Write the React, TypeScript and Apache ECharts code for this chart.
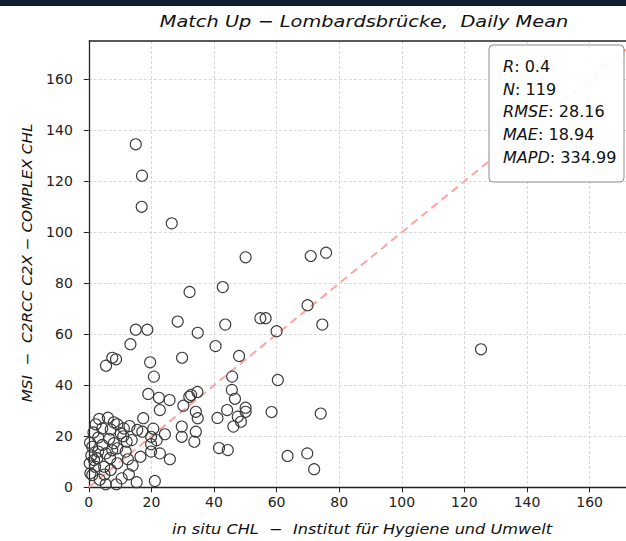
import React, { useEffect, useRef } from "react";
import * as echarts from "echarts";

// in situ CHL (x) – Institut für Hygiene und Umwelt
const insituChl = [
  15.0, 17.0, 16.9, 26.5, 50.1, 70.9, 75.8, 42.8, 32.2, 69.9,
  54.8, 56.5, 74.6, 60.0, 28.4, 43.6, 15.0, 18.7, 34.8, 13.3,
  40.5, 29.8, 48.0, 19.6, 7.5, 8.7, 5.5, 20.8, 45.8, 60.4,
  45.7, 46.7, 34.7, 32.7, 32.1, 30.2, 34.2, 34.8, 44.2, 50.1,
  50.1, 47.6, 48.6, 46.2, 41.1, 58.4, 74.1, 29.7, 29.7, 34.2,
  33.7, 41.6, 44.4, 63.5, 69.8, 72.0, 125.3, 19.0, 22.4, 25.8,
  22.7, 17.4, 24.3, 20.6, 19.9, 21.7, 19.9, 19.9, 22.7, 25.9,
  17.1, 13.7, 12.1, 12.8, 15.3, 21.1, 5.4, 8.8, 3.3, 6.1,
  2.2, 9.1, 4.3, 7.0, 10.2, 11.2, 15.5, 1.1, 4.3, 8.0,
  9.1, 5.4, 1.7, 2.7, 11.8, 6.8, 9.1, 2.0, 4.9, 1.1,
  7.0, 0.4, 0.3, 0.5, 0.8, 3.5, 11.0, 13.0, 3.0, 6.5,
  12.5, 14.0, 10.5, 3.0, 7.5, 1.5, 16.5, 8.0, 5.0,
];

// MSI – C2RCC C2X – COMPLEX CHL (y)
const msiChl = [
  134.5, 122.2, 110.0, 103.5, 90.2, 90.7, 92.0, 78.5, 76.6, 71.4,
  66.3, 66.3, 63.8, 61.2, 65.0, 63.8, 61.8, 61.8, 60.6, 56.1,
  55.4, 50.8, 51.5, 49.0, 50.8, 50.2, 47.7, 43.4, 43.4, 42.1,
  38.2, 34.7, 37.4, 36.2, 35.5, 32.0, 29.6, 27.1, 30.3, 31.2,
  29.6, 27.7, 25.7, 23.8, 27.2, 29.5, 28.9, 23.8, 19.8, 21.8,
  17.9, 15.4, 14.6, 12.3, 13.3, 7.1, 54.1, 36.6, 35.1, 34.2,
  30.3, 27.1, 20.8, 23.0, 19.8, 18.5, 16.9, 14.0, 13.3, 11.0,
  21.8, 18.5, 17.9, 5.1, 2.0, 2.5, 1.2, 1.2, 26.8, 27.3,
  24.7, 24.7, 23.1, 22.7, 21.2, 23.1, 22.5, 15.9, 16.6, 17.3,
  15.3, 13.3, 10.7, 11.4, 14.0, 11.4, 9.4, 8.1, 8.1, 4.8,
  6.8, 17.5, 9.4, 5.5, 12.5, 3.0, 20.0, 24.0, 19.5, 19.0,
  11.0, 8.5, 3.5, 14.0, 14.5, 21.5, 12.0, 25.5, 5.0,
];

const xTicks = [0, 20, 40, 60, 80, 100, 120, 140, 160];
const yTicks = [0, 20, 40, 60, 80, 100, 120, 140, 160];
const oneToOne = [
  [0, 0],
  [175, 175],
];

const statNames = ["R", "N", "RMSE", "MAE", "MAPD"];
const statValues = ["0.4", "119", "28.16", "18.94", "334.99"];

const titleText = "Match Up \u2212 Lombardsbr\u00fccke,  Daily Mean";
const xName = "in situ CHL  \u2212  Institut f\u00fcr Hygiene und Umwelt";
const yName = "MSI  \u2212  C2RCC C2X \u2212 COMPLEX CHL";

const FONT = '"DejaVu Sans", sans-serif';

export default function App() {
  const ref = useRef<HTMLDivElement>(null);

  useEffect(() => {
    if (!ref.current) return;
    const chart = echarts.init(ref.current, undefined, { renderer: "svg" });
    const points = insituChl.map((x, i) => [x, msiChl[i]]);

    const axisCommon = {
      type: "value" as const,
      min: 0,
      max: 175,
      interval: 20,
      axisLine: { show: true, onZero: false, lineStyle: { color: "#222", width: 1.3 } },
      splitLine: { show: true, lineStyle: { color: "#cfcfcf", width: 0.8, type: [3, 2] } },
    };

    chart.setOption({
      animation: false,
      backgroundColor: "#ffffff",
      grid: {
        left: 88.8,
        top: 41,
        width: 547.75,
        height: 446.3,
        containLabel: false,
        outerBoundsMode: "none",
      },
      xAxis: {
        ...axisCommon,
        axisTick: { show: true, length: 5, lineStyle: { color: "#222", width: 1 }, customValues: xTicks },
        axisLabel: {
          customValues: xTicks,
          color: "#222",
          fontSize: 14,
          fontFamily: FONT,
          margin: 8,
        },
      },
      yAxis: {
        ...axisCommon,
        axisTick: { show: true, length: 5, lineStyle: { color: "#222", width: 1 }, customValues: yTicks },
        axisLabel: {
          customValues: yTicks,
          color: "#222",
          fontSize: 14,
          fontFamily: FONT,
          margin: 16,
        },
      },
      series: [
        {
          type: "line",
          data: oneToOne,
          symbol: "none",
          silent: true,
          z: 1,
          lineStyle: { color: "#ffa3a3", width: 2, type: [8, 5] },
        },
        {
          type: "scatter",
          data: points,
          symbol: "circle",
          symbolSize: 11,
          z: 2,
          itemStyle: { color: "rgba(255,255,255,0)", borderColor: "#3a3a3a", borderWidth: 1.1, opacity: 1 },
        },
      ],
      graphic: [
        { type: "rect", shape: { x: 0, y: 0, width: 626, height: 6 }, style: { fill: "#0f1e31" }, z: 10 },
        {
          type: "line",
          shape: { x1: 88.8, y1: 41, x2: 626, y2: 41 },
          style: { stroke: "#222", lineWidth: 1.3 },
          z: 10,
        },
        {
          type: "text",
          x: 364,
          y: 22,
          scaleX: 1.21,
          style: {
            text: titleText,
            font: `italic 16px ${FONT}`,
            fill: "#111",
            textAlign: "center",
            textVerticalAlign: "middle",
          },
          z: 10,
        },
        {
          type: "text",
          x: 362,
          y: 529,
          scaleX: 1.155,
          style: {
            text: xName,
            font: `italic 14px ${FONT}`,
            fill: "#111",
            textAlign: "center",
            textVerticalAlign: "middle",
          },
          z: 10,
        },
        {
          type: "text",
          x: 27,
          y: 263,
          rotation: Math.PI / 2,
          scaleX: 1.09,
          style: {
            text: yName,
            font: `italic 14px ${FONT}`,
            fill: "#111",
            textAlign: "center",
            textVerticalAlign: "middle",
          },
          z: 10,
        },
        {
          type: "rect",
          shape: { x: 489, y: 45, width: 135, height: 137, r: 4 },
          style: { fill: "rgba(255,255,255,0.9)", stroke: "#8a8a8a", lineWidth: 1 },
          z: 20,
        },
        ...statNames.map((n, i) => ({
          type: "text",
          x: 503,
          y: 67 + i * 22.8,
          scaleX: 1.07,
          z: 21,
          style: {
            text: `{i|${n}}: ${statValues[i]}`,
            fontSize: 15,
            fontFamily: FONT,
            fill: "#111",
            textVerticalAlign: "middle",
            rich: {
              i: { fontStyle: "italic", fontSize: 15, fontFamily: FONT, fill: "#111" },
            },
          },
        })),
      ],
    });

    return () => chart.dispose();
  }, []);

  return (
    <div
      ref={ref}
      style={{ position: "fixed", left: 0, top: 0, width: 626, height: 541, background: "#fff" }}
    />
  );
}
